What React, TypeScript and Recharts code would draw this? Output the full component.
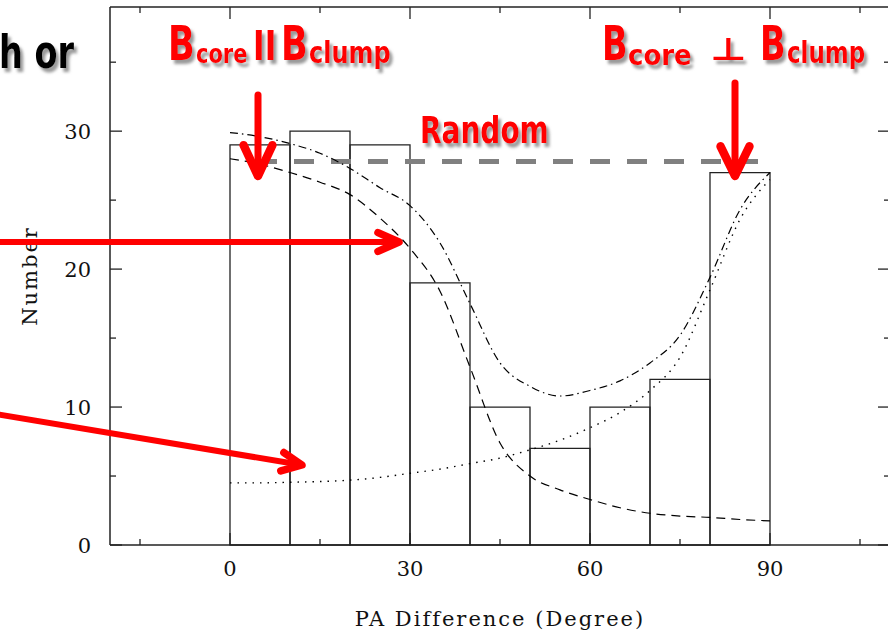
import { ComposedChart, Line, XAxis, YAxis, ReferenceArea, ReferenceLine } from 'recharts';

// histogram of PA differences, 10 degree bins
const binStart = [0, 10, 20, 30, 40, 50, 60, 70, 80];
const binWidth = 10;
const counts = [29, 30, 29, 19, 10, 7, 10, 12, 27];

// model curves, sampled every 5 degrees
const paGrid = [0, 5, 10, 15, 20, 25, 30, 35, 40, 45, 50, 55, 60, 65, 70, 75, 80, 85, 90];
const alignedModel = [28.0, 27.6, 27.0, 26.3, 25.4, 23.7, 21.5, 18.4, 12.9, 7.4, 5.0, 4.0, 3.3, 2.7, 2.3, 2.1, 2.0, 1.85, 1.75];
const mixedModel = [29.9, 29.6, 29.1, 28.4, 27.3, 25.9, 24.6, 21.9, 17.5, 13.2, 11.5, 10.8, 11.2, 11.9, 13.2, 15.2, 19.4, 24.3, 27.0];
const perpModel = [4.5, 4.5, 4.55, 4.6, 4.7, 4.9, 5.2, 5.5, 5.9, 6.3, 6.9, 7.6, 8.5, 9.6, 11.2, 13.6, 18.5, 23.6, 26.5];

// flat "random" level
const randomLevel = 27.8;
const randomFrom = 4.5;
const randomTo = 89;

const xTicks = [-15, 0, 15, 30, 45, 60, 75, 90, 105];
const yTicks = [0, 5, 10, 15, 20, 25, 30, 35];

const rows = paGrid.map((pa, i) => ({
  pa,
  aligned: alignedModel[i],
  mixed: mixedModel[i],
  perp: perpModel[i],
}));

const ink = '#222';
const tickFont = { fontFamily: 'DejaVu Serif', fontSize: 21, fill: '#111' };

const BottomTick = ({ x, y, payload }: any) => {
  const major = payload.value % 30 === 0;
  return (
    <g>
      <line x1={x} x2={x} y1={y} y2={y - (major ? 12 : 6)} stroke={ink} strokeWidth={1.3} />
      {major && (
        <text x={x} y={y + 31} textAnchor="middle" {...tickFont}>
          {payload.value}
        </text>
      )}
    </g>
  );
};

const TopTick = ({ x, y, payload }: any) => {
  const major = payload.value % 30 === 0;
  return <line x1={x} x2={x} y1={y} y2={y + (major ? 12 : 6)} stroke={ink} strokeWidth={1.3} />;
};

const LeftTick = ({ x, y, payload }: any) => {
  const major = payload.value % 10 === 0;
  return (
    <g>
      <line x1={x} x2={x + (major ? 12 : 6)} y1={y} y2={y} stroke={ink} strokeWidth={1.3} />
      {major && (
        <text x={x - 19} y={y + 8} textAnchor="end" {...tickFont}>
          {payload.value}
        </text>
      )}
    </g>
  );
};

const RightTick = ({ x, y, payload }: any) => {
  const major = payload.value % 10 === 0;
  return <line x1={x} x2={x - (major ? 12 : 6)} y1={y} y2={y} stroke={ink} strokeWidth={1.3} />;
};

const Arrow = ({ x1, y1, x2, y2, w, head, spread }: any) => {
  const a = Math.atan2(y2 - y1, x2 - x1);
  const s = (spread * Math.PI) / 180;
  const ax = x2 - head * Math.cos(a - s);
  const ay = y2 - head * Math.sin(a - s);
  const bx = x2 - head * Math.cos(a + s);
  const by = y2 - head * Math.sin(a + s);
  return (
    <g stroke="#ff0000" fill="none" strokeLinecap="round" strokeLinejoin="round">
      <line x1={x1} y1={y1} x2={x2} y2={y2} strokeWidth={w} />
      <path d={`M${ax},${ay} L${x2},${y2} L${bx},${by}`} strokeWidth={w + 1.5} />
    </g>
  );
};

// one piece of annotation text, stretched vertically to mimic the tall hand-drawn lettering
const Piece = ({ x, y, fs, sy, children, fill = '#ff0000' }: any) => (
  <text
    transform={`translate(${x},${y}) scale(1,${sy})`}
    fontSize={fs}
    fill={fill}
    fontFamily="DejaVu Sans"
    fontWeight={700}
  >
    {children}
  </text>
);

const Overlay = () => (
  <svg width={888} height={631} style={{ position: 'absolute', left: 0, top: 0, pointerEvents: 'none' }}>
    <defs>
      <filter id="shadow" x="-10%" y="-20%" width="130%" height="160%">
        <feDropShadow dx="3" dy="4" stdDeviation="1.6" floodColor="#777" floodOpacity="0.75" />
      </filter>
    </defs>
    <g filter="url(#shadow)">
      <Piece x={-1} y={68} fs={33.5} sy={1.4} fill="#000">h or</Piece>

      <Piece x={168} y={60} fs={35} sy={1.36}>B</Piece>
      <Piece x={196} y={63} fs={21} sy={1.3}>core</Piece>
      <Piece x={253} y={60} fs={34} sy={1.15}>ll</Piece>
      <Piece x={281} y={60} fs={35} sy={1.36}>B</Piece>
      <Piece x={309} y={63} fs={24} sy={1.26}>clump</Piece>

      <Piece x={420} y={143} fs={28} sy={1.36}>Random</Piece>

      <Piece x={602} y={60} fs={33.5} sy={1.43}>B</Piece>
      <Piece x={628} y={65} fs={26} sy={1.12}>core</Piece>
      <Piece x={710} y={60} fs={40} sy={0.78}>⊥</Piece>
      <Piece x={760} y={60} fs={33.5} sy={1.43}>B</Piece>
      <Piece x={787} y={63} fs={23} sy={1.3}>clump</Piece>
    </g>
    <Arrow x1={258} y1={95} x2={258} y2={176} w={7} head={34} spread={25} />
    <Arrow x1={735} y1={83} x2={735} y2={176} w={7} head={33} spread={26} />
    <Arrow x1={-5} y1={242} x2={399} y2={242} w={6} head={23} spread={24} />
    <Arrow x1={-5} y1={414} x2={302} y2={465} w={6} head={22} spread={25} />
  </svg>
);

export default function App() {
  return (
    <div style={{ position: 'absolute', left: 0, top: 0, width: 888, height: 631, overflow: 'hidden', background: '#fff' }}>
      <ComposedChart width={900} height={631} data={rows} margin={{ top: 6, right: 9, bottom: 85, left: 109 }}>
        <XAxis
          xAxisId="b"
          type="number"
          dataKey="pa"
          domain={[-20, 110]}
          allowDataOverflow
          ticks={xTicks}
          interval={0}
          height={1}
          tickSize={0}
          tickMargin={0}
          tickLine={false}
          tick={BottomTick}
          axisLine={{ stroke: ink, strokeWidth: 1.5 }}
          label={{
            value: 'PA Difference (Degree)',
            position: 'bottom',
            offset: 65,
            fontFamily: 'DejaVu Serif',
            fontSize: 21,
            fill: '#111',
            letterSpacing: 2,
          }}
        />
        <XAxis
          xAxisId="t"
          orientation="top"
          type="number"
          dataKey="pa"
          domain={[-20, 110]}
          allowDataOverflow
          ticks={xTicks}
          interval={0}
          height={1}
          tickSize={0}
          tickMargin={0}
          tickLine={false}
          tick={TopTick}
          axisLine={{ stroke: ink, strokeWidth: 1.5 }}
        />
        <YAxis
          yAxisId="l"
          type="number"
          domain={[0, 39]}
          allowDataOverflow
          ticks={yTicks}
          interval={0}
          width={1}
          tickSize={0}
          tickMargin={0}
          tickLine={false}
          tick={LeftTick}
          axisLine={{ stroke: ink, strokeWidth: 1.5 }}
          label={{
            value: 'Number',
            angle: -90,
            position: 'left',
            offset: 79,
            fontFamily: 'DejaVu Serif',
            fontSize: 21,
            fill: '#111',
            letterSpacing: 2,
            style: { textAnchor: 'middle' },
          }}
        />
        <YAxis
          yAxisId="r"
          orientation="right"
          type="number"
          domain={[0, 39]}
          allowDataOverflow
          ticks={yTicks}
          interval={0}
          width={1}
          tickSize={0}
          tickMargin={0}
          tickLine={false}
          tick={RightTick}
          axisLine={{ stroke: ink, strokeWidth: 1.5 }}
        />
        {binStart.map((b, i) => (
          <ReferenceArea
            key={b}
            xAxisId="b"
            yAxisId="l"
            x1={b}
            x2={b + binWidth}
            y1={0}
            y2={counts[i]}
            fill="none"
            fillOpacity={0}
            stroke={ink}
            strokeWidth={1.3}
            strokeOpacity={1}
          />
        ))}
        <ReferenceLine
          xAxisId="b"
          yAxisId="l"
          segment={[
            { x: randomFrom, y: randomLevel },
            { x: randomTo, y: randomLevel },
          ]}
          stroke="#808080"
          strokeWidth={5}
          strokeDasharray="20 17"
        />
        <Line xAxisId="b" yAxisId="l" type="monotone" dataKey="aligned" stroke="#000" strokeWidth={1.2} strokeDasharray="9 6" dot={false} isAnimationActive={false} />
        <Line xAxisId="b" yAxisId="l" type="monotone" dataKey="mixed" stroke="#000" strokeWidth={1.2} strokeDasharray="8 4 1.5 4" dot={false} isAnimationActive={false} />
        <Line xAxisId="b" yAxisId="l" type="monotone" dataKey="perp" stroke="#000" strokeWidth={1.4} strokeDasharray="1.5 6" dot={false} isAnimationActive={false} />
      </ComposedChart>
      <Overlay />
    </div>
  );
}
